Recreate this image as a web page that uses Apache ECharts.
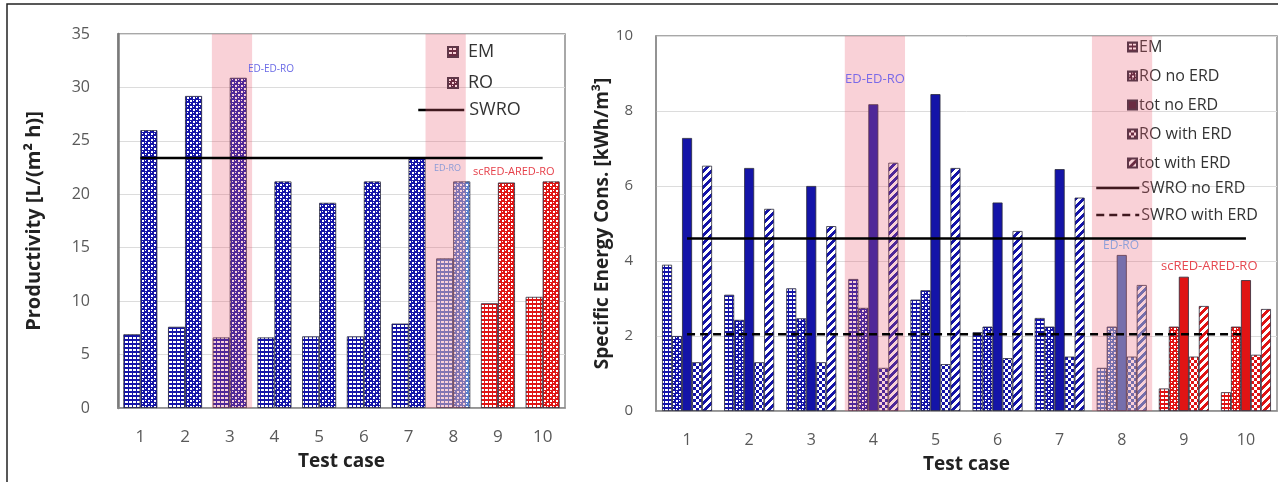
<!DOCTYPE html>
<html><head><meta charset="utf-8">
<script src="https://cdn.jsdelivr.net/npm/echarts@6/dist/echarts.min.js"></script>
<style>html,body{margin:0;padding:0;background:#fff}#c{width:1278px;height:482px}</style>
</head><body><div id="c"></div>
<script>
// ---------- data ----------
const cases = ['1','2','3','4','5','6','7','8','9','10'];
// Left chart: Productivity [L/(m² h)]
const prodEM   = [6.9, 7.6, 6.6, 6.6, 6.7, 6.7, 7.9, 14.0, 9.8, 10.4];
const prodRO   = [26.0, 29.2, 30.9, 21.2, 19.2, 21.2, 23.4, 21.2, 21.1, 21.2];
const prodSWRO = [23.4, 23.4, 23.4, 23.4, 23.4, 23.4, 23.4, 23.4, 23.4, 23.4];
const prodBands = [[2.6, 3.5], [7.38, 8.28]];
// Right chart: Specific Energy Cons. [kWh/m³]
const secEM        = [3.9, 3.1, 3.27, 3.52, 2.97, 2.1, 2.48, 1.15, 0.6, 0.5];
const secRONoERD   = [2.0, 2.43, 2.47, 2.75, 3.22, 2.25, 2.25, 2.25, 2.25, 2.25];
const secTotNoERD  = [7.28, 6.48, 6.0, 8.18, 8.45, 5.56, 6.45, 4.16, 3.58, 3.49];
const secROWithERD = [1.3, 1.3, 1.3, 1.15, 1.25, 1.41, 1.45, 1.45, 1.45, 1.5];
const secTotWithERD= [6.54, 5.39, 4.93, 6.62, 6.48, 4.8, 5.69, 3.36, 2.8, 2.72];
const secSWRONoERD   = [4.6, 4.6, 4.6, 4.6, 4.6, 4.6, 4.6, 4.6, 4.6, 4.6];
const secSWROWithERD = [2.05, 2.05, 2.05, 2.05, 2.05, 2.05, 2.05, 2.05, 2.05, 2.05];
const secBands = [[3.54, 4.51], [7.52, 8.49]];

// ---------- styles ----------
const NAVY = '#1414a8', LB = '#5a80cc', RED = '#e01414';
const leftColors  = [NAVY, NAVY, NAVY, NAVY, NAVY, NAVY, NAVY, LB, RED, RED];
const rightColors = [NAVY, NAVY, NAVY, NAVY, NAVY, NAVY, NAVY, '#4a78c4', RED, RED];
const LEGEND_DARK = '#3a1a30';
const FONT = '"Open Sans", Lato, sans-serif';

const cache = {};
function pat(type, color) {
  const key = type + color;
  if (cache[key]) return cache[key];
  if (type === 'solid') return color;
  const c = document.createElement('canvas');
  let w = 4, h = 4;
  if (type === 'dots' || type === 'checker') { w = 6; h = 6; }
  if (type === 'stripes') { w = 8; h = 8; }
  c.width = w; c.height = h;
  const g = c.getContext('2d');
  if (type === 'grid') {
    g.fillStyle = color; g.fillRect(0, 0, w, h);
    g.fillStyle = '#fff'; g.fillRect(1, 1, 3, 2);
  } else if (type === 'dots') {
    g.fillStyle = color; g.fillRect(0, 0, w, h);
    g.fillStyle = '#fff'; g.fillRect(1, 1, 2, 2); g.fillRect(4, 4, 2, 2); g.fillRect(4, 1, 1, 1); g.fillRect(1, 4, 1, 1);
  } else if (type === 'checker') {
    g.fillStyle = '#fff'; g.fillRect(0, 0, w, h);
    g.fillStyle = color; g.fillRect(0, 0, 3, 3); g.fillRect(3, 3, 3, 3);
  } else if (type === 'stripes') {
    g.fillStyle = '#fff'; g.fillRect(0, 0, w, h);
    g.fillStyle = color;
    for (let x = 0; x < w; x++) for (let y = 0; y < h; y++) if ((x + y) % 8 < 4) g.fillRect(x, y, 1, 1);
  }
  cache[key] = { image: c, repeat: 'repeat' };
  return cache[key];
}

function barSeries(name, values, type, colors, xi, yi, width) {
  return {
    name, type: 'bar', xAxisIndex: xi, yAxisIndex: yi, barWidth: width, barGap: '0%', z: 2,
    itemStyle: { color: pat(type, LEGEND_DARK), borderColor: '#2a2a3a', borderWidth: 0.8 },
    data: values.map((v, i) => ({ value: v, itemStyle: { color: pat(type, colors[i]) } }))
  };
}
function lineSeries(name, values, xi, yi, dashed) {
  return {
    name, type: 'line', xAxisIndex: xi, yAxisIndex: yi, symbol: 'none', z: 6, silent: true,
    lineStyle: { color: '#000', width: 2.5, type: dashed ? [8, 5] : 'solid' },
    itemStyle: { color: '#000' },
    data: values
  };
}
function bandSeries(bands, xi, yi) {
  return {
    type: 'line', xAxisIndex: xi, yAxisIndex: yi, data: [], z: 5, silent: true,
    markArea: { silent: true, z: 5, itemStyle: { color: 'rgba(235,90,110,0.28)' },
      data: bands.map(b => [{ xAxis: b[0] }, { xAxis: b[1] }]) }
  };
}

const chart = echarts.init(document.getElementById('c'), null, { renderer: 'canvas' });
const axisLabel = (fs, m) => ({ fontSize: fs, color: '#595959', margin: m, fontFamily: FONT });
const lineLegendItem = { opacity: 0 };
const option = {
  animation: false,
  backgroundColor: '#fff',
  textStyle: { fontFamily: FONT },
  grid: [
    { left: 118, top: 34, width: 447, height: 374, show: true, borderColor: '#8c8c8c', borderWidth: 1.5, containLabel: false, outerBoundsMode: 'none' },
    { left: 656, top: 36, width: 621, height: 375, show: true, borderColor: '#8c8c8c', borderWidth: 1.5, containLabel: false, outerBoundsMode: 'none' }
  ],
  xAxis: [
    { type: 'category', gridIndex: 0, data: cases, axisTick: { show: false },
      axisLine: { lineStyle: { color: '#8c8c8c', width: 1.5 } }, axisLabel: axisLabel(17, 21),
      name: 'Test case', nameLocation: 'middle', nameGap: 44,
      nameTextStyle: { fontSize: 19, fontWeight: 'bold', color: '#222', fontFamily: FONT } },
    { type: 'category', gridIndex: 1, data: cases, axisTick: { show: false },
      axisLine: { lineStyle: { color: '#8c8c8c', width: 1.5 } }, axisLabel: axisLabel(16, 21),
      name: 'Test case', nameLocation: 'middle', nameGap: 44,
      nameTextStyle: { fontSize: 19, fontWeight: 'bold', color: '#222', fontFamily: FONT } },
    { type: 'value', gridIndex: 0, min: 0.5, max: 10.5, show: false },
    { type: 'value', gridIndex: 1, min: 0.5, max: 10.5, show: false }
  ],
  yAxis: [
    { type: 'value', gridIndex: 0, min: 0, max: 35, interval: 5,
      axisLine: { show: true, lineStyle: { color: '#7a7a7a', width: 2.5 } }, axisTick: { show: false },
      splitLine: { lineStyle: { color: '#dcdcdc', width: 1 } }, axisLabel: axisLabel(16, 28),
      name: 'Productivity [L/(m² h)]', nameLocation: 'middle', nameGap: 74, nameRotate: 90,
      nameTextStyle: { fontSize: 20, fontWeight: 'bold', color: '#222', fontFamily: FONT } },
    { type: 'value', gridIndex: 1, min: 0, max: 10, interval: 2,
      axisLine: { show: true, lineStyle: { color: '#8c8c8c', width: 1.5 } }, axisTick: { show: false },
      splitLine: { lineStyle: { color: '#dcdcdc', width: 1 } }, axisLabel: axisLabel(15, 23),
      name: 'Specific Energy Cons. [kWh/m³]', nameLocation: 'middle', nameGap: 41, nameRotate: 90,
      nameTextStyle: { fontSize: 19, fontWeight: 'bold', color: '#222', fontFamily: FONT } }
  ],
  legend: [
    { orient: 'vertical', left: 442, top: 38, itemWidth: 10, itemHeight: 10, itemGap: 13, icon: 'rect',
      selectedMode: false, data: ['EM', 'RO'], textStyle: { fontSize: 18, color: '#333', padding: [0, 0, 0, 5], fontFamily: FONT } },
    { orient: 'vertical', left: 412, top: 96, itemWidth: 46, itemHeight: 14, selectedMode: false,
      itemStyle: lineLegendItem, lineStyle: { width: 2.5, color: '#000' },
      data: ['SWRO'], textStyle: { fontSize: 18, color: '#333', fontFamily: FONT } },
    { orient: 'vertical', left: 1122, top: 34, itemWidth: 9, itemHeight: 9, itemGap: 13, icon: 'rect',
      selectedMode: false, data: ['EM ', 'RO no ERD', 'tot no ERD', 'RO with ERD', 'tot with ERD'],
      textStyle: { fontSize: 16, color: '#333', padding: [0, 0, 0, -3], fontFamily: FONT } },
    { orient: 'vertical', left: 1090, top: 175, itemWidth: 43, itemHeight: 12, itemGap: 11, selectedMode: false,
      itemStyle: lineLegendItem, lineStyle: { width: 2.5, color: '#000' },
      data: ['SWRO no ERD', 'SWRO with ERD'], textStyle: { fontSize: 16, color: '#333', padding: [0, 0, 0, -3], fontFamily: FONT } }
  ],
  series: [
    barSeries('EM', prodEM, 'grid', leftColors, 0, 0, 17),
    barSeries('RO', prodRO, 'dots', leftColors, 0, 0, 17),
    lineSeries('SWRO', prodSWRO, 0, 0, false),
    bandSeries(prodBands, 2, 0),
    barSeries('EM ', secEM, 'grid', rightColors, 1, 1, 10),
    barSeries('RO no ERD', secRONoERD, 'dots', rightColors, 1, 1, 10),
    barSeries('tot no ERD', secTotNoERD, 'solid', rightColors, 1, 1, 10),
    barSeries('RO with ERD', secROWithERD, 'checker', rightColors, 1, 1, 10),
    barSeries('tot with ERD', secTotWithERD, 'stripes', rightColors, 1, 1, 10),
    lineSeries('SWRO no ERD', secSWRONoERD, 1, 1, false),
    lineSeries('SWRO with ERD', secSWROWithERD, 1, 1, true),
    bandSeries(secBands, 3, 1)
  ],
  graphic: [
    { type: 'rect', shape: { x: 7, y: 4, width: 1300, height: 500 }, style: { fill: 'none', stroke: '#222', lineWidth: 1.5 }, z: 100, silent: true },
    { type: 'text', x: 248, y: 64, style: { text: 'ED-ED-RO', fontSize: 10, fill: '#6a6ae6', fontFamily: FONT }, z: 50 },
    { type: 'text', x: 434, y: 164, style: { text: 'ED-RO', fontSize: 9, fill: '#8a9ad6', fontFamily: FONT }, z: 50 },
    { type: 'text', x: 473, y: 166, style: { text: 'scRED-ARED-RO', fontSize: 11, fill: '#e6404a', fontFamily: FONT }, z: 50 },
    { type: 'text', x: 845, y: 73, style: { text: 'ED-ED-RO', fontSize: 13, fill: '#7a6ae8', fontFamily: FONT }, z: 50 },
    { type: 'text', x: 1103, y: 240, style: { text: 'ED-RO', fontSize: 12, fill: '#8fa0d8', fontFamily: FONT }, z: 50 },
    { type: 'text', x: 1161, y: 260, style: { text: 'scRED-ARED-RO', fontSize: 13, fill: '#e64850', fontFamily: FONT }, z: 50 }
  ]
};
chart.setOption(option);
</script>
</body></html>
